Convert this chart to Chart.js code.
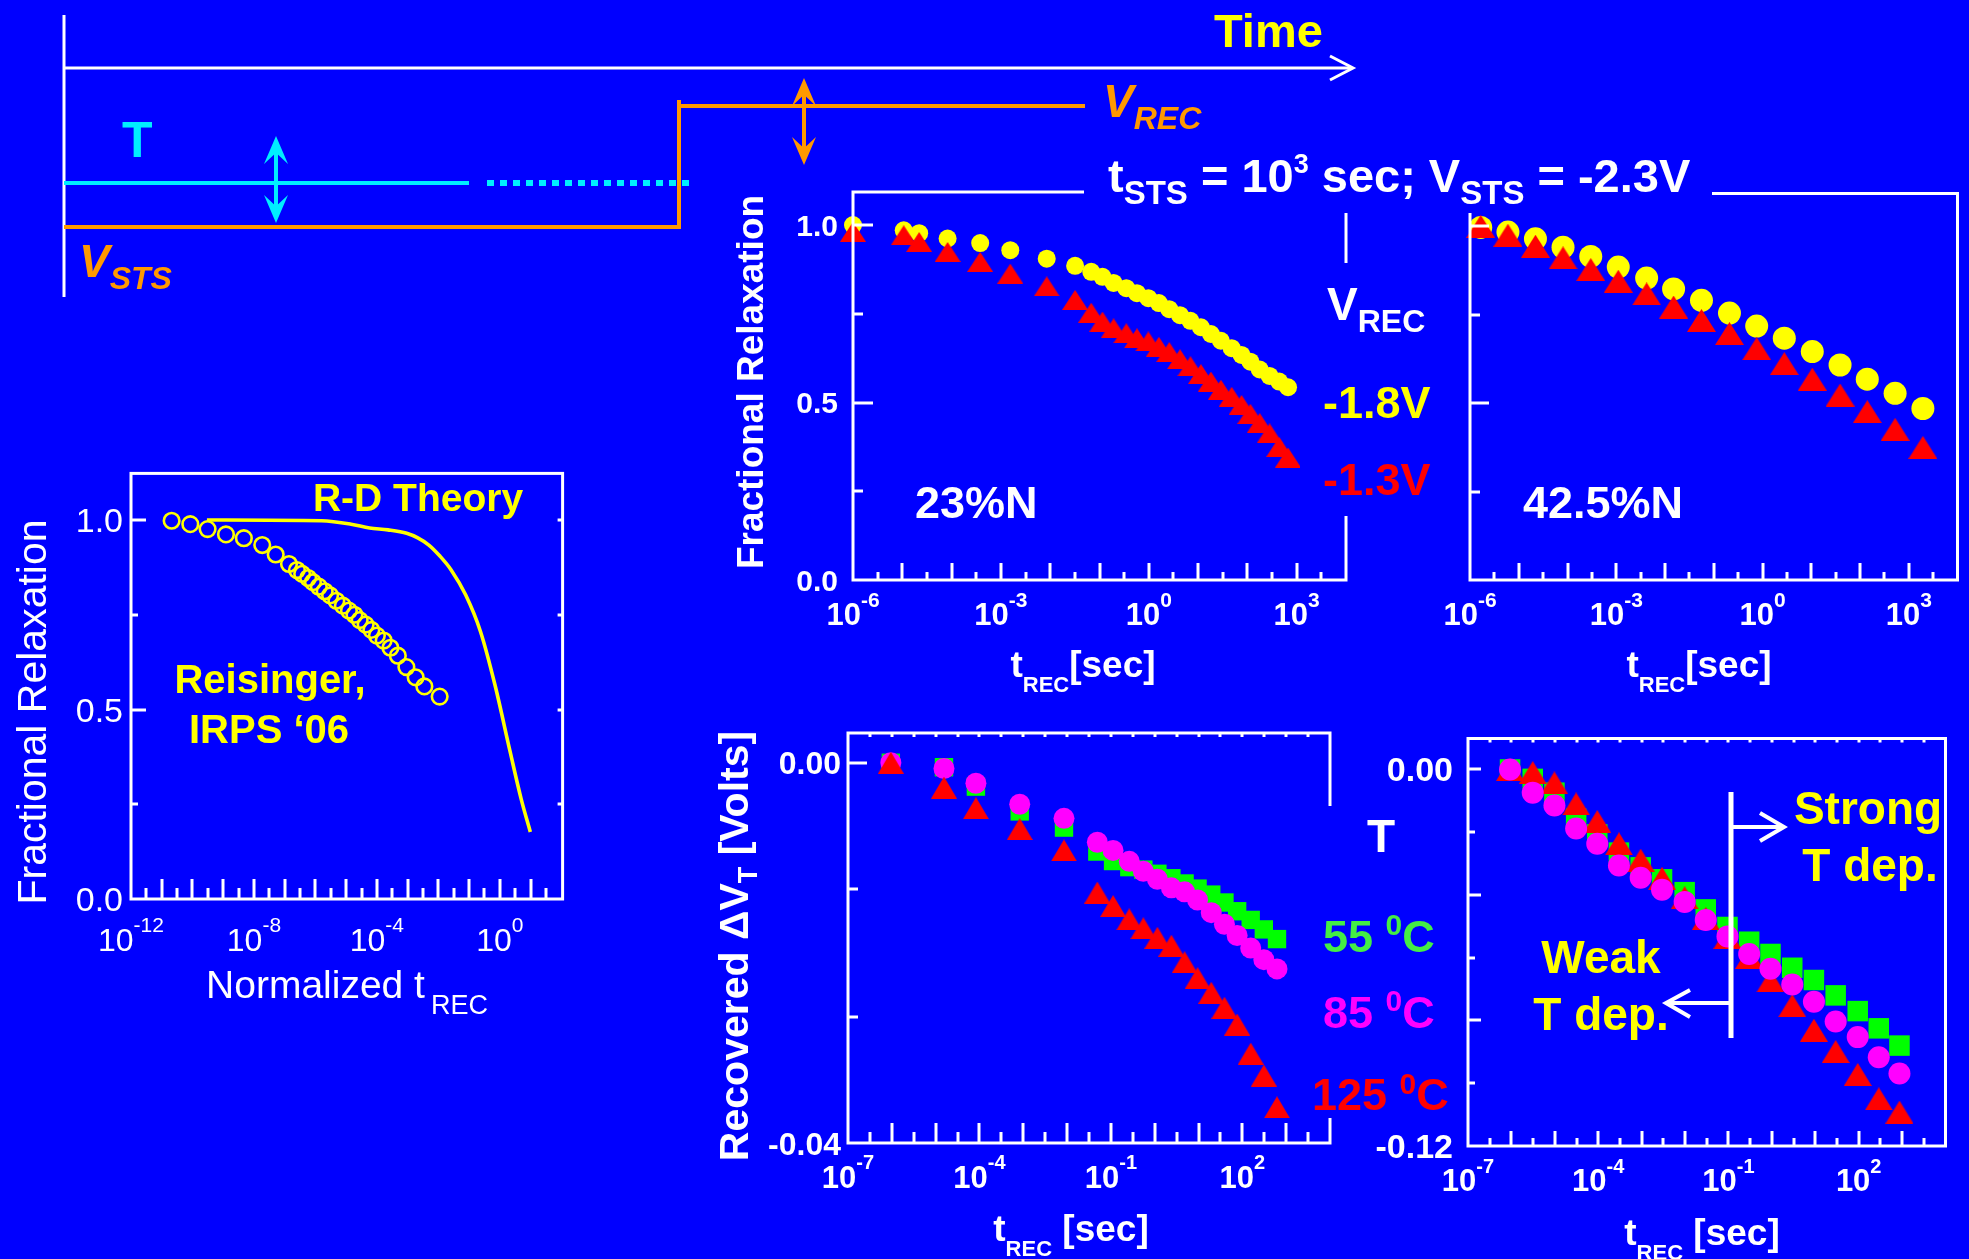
<!DOCTYPE html>
<html>
<head>
<meta charset="utf-8">
<script src="https://cdn.jsdelivr.net/npm/chart.js@4.4.1/dist/chart.umd.min.js"></script>
<style>
  html, body { margin: 0; padding: 0; background: #0000ff; width: 1969px; height: 1259px; overflow: hidden; }
  canvas { position: absolute; }
  #notes { left: 0; top: 0; z-index: 10; }
</style>
</head>
<body>
<canvas id="theoryChart"></canvas>
<canvas id="n23Chart"></canvas>
<canvas id="n425Chart"></canvas>
<canvas id="tempChart"></canvas>
<canvas id="tempSlopeChart"></canvas>
<canvas id="notes" width="1969" height="1259"></canvas>
<script>
// ---- R-D theory vs. Reisinger (normalized recovery time) ----
const reisT = [2.1e-11, 8.5e-11, 3.1e-10, 1.23e-9, 4.7e-9, 1.86e-8, 5.1e-8, 1.38e-7, 2.5e-7, 3.7e-7,
  5.8e-7, 8.3e-7, 1.29e-6, 2.0e-6, 3.0e-6, 4.8e-6, 7.8e-6, 1.23e-5, 1.86e-5, 2.75e-5,
  4.3e-5, 6.6e-5, 1.0e-4, 1.66e-4, 2.75e-4, 4.8e-4, 9.1e-4, 1.82e-3, 3.5e-3, 0.011];
const reisFrac = [0.998, 0.989, 0.976, 0.962, 0.952, 0.934, 0.909, 0.884, 0.868, 0.858,
  0.847, 0.836, 0.824, 0.812, 0.801, 0.787, 0.774, 0.761, 0.750, 0.736,
  0.724, 0.710, 0.695, 0.682, 0.663, 0.642, 0.612, 0.585, 0.561, 0.534];
const rdT = [2.95e-10, 1.58e-6, 1.45e-5, 5.75e-5, 2.3e-4, 9.3e-4, 2.14e-3, 4.9e-3, 0.0112, 0.0257, 0.0776, 0.234, 0.708, 2.14, 4.9, 9.8];
const rdFrac = [1.0, 0.998, 0.989, 0.979, 0.974, 0.965, 0.953, 0.934, 0.905, 0.869, 0.802, 0.706, 0.562, 0.39, 0.265, 0.177];

// ---- 23%N, fractional relaxation vs t_REC ----
const n23T = [1e-6, 1.07e-5, 2.2e-5, 8.3e-5, 3.8e-4, 1.55e-3, 8.5e-3, 0.032, 0.068, 0.115,
  0.193, 0.35, 0.575, 0.98, 1.6, 2.6, 4.3, 7.0, 11.4, 18.2,
  29, 48, 76, 115, 178, 282, 442, 668];
const n23Vrec18 = [1.0, 0.985, 0.977, 0.962, 0.949, 0.929, 0.905, 0.885, 0.868, 0.854,
  0.837, 0.822, 0.808, 0.794, 0.780, 0.763, 0.746, 0.730, 0.712, 0.693,
  0.674, 0.653, 0.634, 0.615, 0.593, 0.575, 0.559, 0.543];
const n23Vrec13 = [0.981, 0.971, 0.952, 0.924, 0.896, 0.863, 0.827, 0.789, 0.753, 0.728,
  0.709, 0.695, 0.681, 0.672, 0.657, 0.642, 0.622, 0.602, 0.580, 0.559,
  0.536, 0.516, 0.493, 0.468, 0.442, 0.413, 0.375, 0.345];

// ---- 42.5%N ----
const n425T = [1.66e-6, 6.0e-6, 2.2e-5, 8.1e-5, 3.0e-4, 1.1e-3, 4.2e-3, 0.015, 0.056, 0.21, 0.76, 2.8, 10.5, 39, 141, 525, 1950];
const n425Vrec18 = [0.997, 0.984, 0.965, 0.941, 0.915, 0.885, 0.854, 0.823, 0.791, 0.755, 0.718, 0.684, 0.646, 0.608, 0.568, 0.528, 0.485];
const n425Vrec13 = [1.0, 0.975, 0.944, 0.911, 0.878, 0.845, 0.809, 0.772, 0.734, 0.697, 0.654, 0.612, 0.568, 0.523, 0.476, 0.426, 0.375];

// ---- recovered dVT at three temperatures ----
const tempT = [9.5e-7, 1.55e-5, 8.3e-5, 8.3e-4, 8.5e-3, 0.049, 0.112, 0.263, 0.55, 1.15,
  2.4, 4.8, 9.5, 19.5, 39, 76, 155, 309, 617];
const dvt55 = [0, -0.00047, -0.00251, -0.00512, -0.00682, -0.00934, -0.01034, -0.01098, -0.01124, -0.01168,
  -0.01215, -0.0127, -0.01324, -0.01387, -0.0147, -0.01562, -0.01653, -0.01753, -0.01855];
const dvt85 = [0, -0.0006, -0.00216, -0.00436, -0.00585, -0.00836, -0.00922, -0.01037, -0.01142, -0.01225,
  -0.01316, -0.01358, -0.01444, -0.01577, -0.01699, -0.01817, -0.0195, -0.02071, -0.02169];
const dvt125 = [0, -0.00261, -0.00478, -0.00697, -0.00922, -0.01365, -0.01507, -0.01647, -0.01741, -0.01841,
  -0.01925, -0.02099, -0.02266, -0.0242, -0.02577, -0.02754, -0.0306, -0.0329, -0.03624];

// ---- second device, wider dVT range ----
const slopeT = [9.3e-7, 3.1e-6, 9.8e-6, 3.1e-5, 9.5e-5, 3.0e-4, 9.5e-4, 2.95e-3, 9.8e-3, 0.030,
  0.095, 0.30, 0.93, 2.95, 9.3, 29.5, 95, 290, 870];
const slope55 = [0, -0.003, -0.0074, -0.0157, -0.0207, -0.0265, -0.0312, -0.035, -0.0391, -0.0446,
  -0.0502, -0.0549, -0.0588, -0.0632, -0.0671, -0.0720, -0.0770, -0.0825, -0.0880];
const slope85 = [0, -0.0074, -0.0115, -0.0188, -0.0237, -0.0306, -0.0345, -0.0383, -0.0422, -0.0480,
  -0.0532, -0.0588, -0.0635, -0.0685, -0.0740, -0.0803, -0.0853, -0.0917, -0.0969];
const slope125 = [0, -0.001, -0.0043, -0.011, -0.0166, -0.0237, -0.0289, -0.0347, -0.0409, -0.0475,
  -0.0535, -0.0599, -0.0674, -0.0753, -0.0831, -0.0899, -0.0972, -0.1050, -0.1092];

const BLUE = '#0000ff', WHITE = '#ffffff', YELLOW = '#ffff00', RED = '#ff0000',
  GREEN = '#00ff00', MAGENTA = '#ff00ff', ORANGE = '#ff9900', CYAN = '#00eeff', TXT_GREEN = '#44ee44';

const font = (size, weight = 'bold', style = '') => `${style} ${weight} ${size}px "Liberation Sans", Arial, sans-serif`;
const pts = (xs, ys) => xs.map((x, i) => ({x, y: ys[i]}));

// flat triangle marker used by all the red series
function triangleMark(w, h, color) {
  const c = document.createElement('canvas');
  c.width = w; c.height = h;
  const g = c.getContext('2d');
  g.fillStyle = color;
  g.beginPath();
  g.moveTo(w / 2, 0); g.lineTo(w, h); g.lineTo(0, h);
  g.closePath(); g.fill();
  return c;
}

// box, inward ticks and tick labels (10 with raised exponent)
function axesPlugin(o) {
  return {
    id: 'axes',
    afterDatasetsDraw(chart) {
      const g = chart.ctx, a = chart.chartArea, xs = chart.scales.x, ys = chart.scales.y;
      g.save();
      g.strokeStyle = WHITE; g.fillStyle = WHITE;
      g.lineWidth = o.lw; g.lineCap = 'butt';
      g.strokeRect(a.left, a.top, a.right - a.left, a.bottom - a.top);
      const lo = Math.log10(xs.min), hi = Math.log10(xs.max);
      g.beginPath();
      for (let e = Math.ceil(lo * 2 - 1e-6) / 2; e < hi - 0.05; e += 0.5) {
        if (e < lo + 0.05) continue;
        const px = Math.round(xs.getPixelForValue(Math.pow(10, e)));
        const len = Number.isInteger(e) ? o.tickMajor : o.tickMinor;
        g.moveTo(px, a.bottom); g.lineTo(px, a.bottom - len);
        if (o.tickTop) { g.moveTo(px, a.top); g.lineTo(px, a.top + o.tickTop); }
      }
      for (const [v, len] of o.yTicks) {
        const py = Math.round(ys.getPixelForValue(v));
        g.moveTo(a.left, py); g.lineTo(a.left + len, py);
      }
      for (const [v, len] of (o.rTicks || [])) {
        const py = Math.round(ys.getPixelForValue(v));
        g.moveTo(a.right, py); g.lineTo(a.right - len, py);
      }
      g.stroke();

      g.font = o.yFont; g.textAlign = 'right'; g.textBaseline = 'alphabetic';
      for (const [v, txt] of (o.yLabels || [])) {
        g.fillText(txt, a.left - o.yGap, ys.getPixelForValue(v) + o.yCap / 2);
      }
      g.textAlign = 'left';
      for (const e of o.xExps) {
        const px = xs.getPixelForValue(Math.pow(10, e));
        g.font = o.xFont; const wb = g.measureText('10').width;
        g.font = o.xSupFont; const ws = g.measureText(String(e)).width;
        const x0 = px - (wb + ws) / 2, base = a.bottom + o.xBase;
        g.font = o.xFont; g.fillText('10', x0, base);
        g.font = o.xSupFont; g.fillText(String(e), x0 + wb, base - o.xRaise);
      }
      g.restore();
    }
  };
}

function makeChart(id, frame, pad, xr, yr, datasets, axes) {
  const cv = document.getElementById(id);
  cv.width = frame.r - frame.l + pad.l + pad.r;
  cv.height = frame.b - frame.t + pad.t + pad.b;
  cv.style.left = (frame.l - pad.l) + 'px';
  cv.style.top = (frame.t - pad.t) + 'px';
  return new Chart(cv, {
    type: 'scatter',
    data: {datasets},
    options: {
      responsive: false,
      animation: false,
      devicePixelRatio: 1,
      layout: {padding: {left: pad.l, top: pad.t, right: pad.r, bottom: pad.b}},
      plugins: {legend: {display: false}, tooltip: {enabled: false}},
      scales: {
        x: {type: 'logarithmic', bounds: 'data', min: xr[0], max: xr[1], display: false},
        y: {type: 'linear', bounds: 'data', min: yr[0], max: yr[1], display: false}
      }
    },
    plugins: [axesPlugin(axes)]
  });
}

const dot = (data, color, r) => ({data, pointStyle: 'circle', pointRadius: r, backgroundColor: color, borderWidth: 0, clip: false});
const tri = (data, w, h) => ({data, pointStyle: triangleMark(w, h, RED), pointRadius: 10, borderWidth: 0, clip: false});
const sq = (data, r) => ({data, pointStyle: 'rect', pointRadius: r, backgroundColor: GREEN, borderWidth: 0, clip: false});

// R-D theory panel
makeChart('theoryChart', {l: 131, t: 473, r: 563, b: 899}, {l: 80, t: 10, r: 10, b: 70},
  [1e-12, 110], [0, 1.123],
  [
    {data: pts(rdT, rdFrac), showLine: true, pointRadius: 0, borderColor: YELLOW, borderWidth: 3.6,
      cubicInterpolationMode: 'monotone', clip: false},
    {data: pts(reisT, reisFrac), pointStyle: 'circle', pointRadius: 7.8, backgroundColor: 'rgba(0,0,0,0)',
      borderColor: YELLOW, borderWidth: 2.6, clip: false}
  ],
  {lw: 3, tickMajor: 20, tickMinor: 11,
    yTicks: [[1, 15], [0.75, 7], [0.5, 15], [0.25, 7]], rTicks: [[1, 5], [0.75, 5], [0.5, 5], [0.25, 5]],
    yLabels: [[1, '1.0'], [0.5, '0.5'], [0, '0.0']], yFont: font(34, 'normal'), yCap: 24, yGap: 8,
    xExps: [-12, -8, -4, 0], xFont: font(32, 'normal'), xSupFont: font(21, 'normal'), xBase: 52, xRaise: 19});

// 23%N panel
makeChart('n23Chart', {l: 853, t: 192, r: 1346, b: 580}, {l: 70, t: 10, r: 40, b: 60},
  [1e-6, 1e4], [0, 1.093],
  [tri(pts(n23T, n23Vrec13), 26, 20), dot(pts(n23T, n23Vrec18), YELLOW, 9)],
  {lw: 3, tickMajor: 17, tickMinor: 8,
    yTicks: [[1, 20], [0.75, 10], [0.5, 20], [0.25, 10]],
    yLabels: [[1, '1.0'], [0.5, '0.5'], [0, '0.0']], yFont: font(30), yCap: 21, yGap: 15,
    xExps: [-6, -3, 0, 3], xFont: font(31), xSupFont: font(21), xBase: 45, xRaise: 18});

// 42.5%N panel
makeChart('n425Chart', {l: 1470, t: 192, r: 1961, b: 580}, {l: 40, t: 10, r: 8, b: 60},
  [1e-6, 1e4], [0, 1.093],
  [tri(pts(n425T, n425Vrec13), 29, 23), dot(pts(n425T, n425Vrec18), YELLOW, 11.5)],
  {lw: 3, tickMajor: 17, tickMinor: 8,
    yTicks: [[1, 19], [0.75, 10], [0.5, 19], [0.25, 10]],
    xExps: [-6, -3, 0, 3], xFont: font(31), xSupFont: font(21), xBase: 45, xRaise: 18});

// temperature panel
makeChart('tempChart', {l: 848, t: 730, r: 1330, b: 1143}, {l: 90, t: 10, r: 40, b: 60},
  [1e-7, 1e4], [-0.04, 0.00313],
  [tri(pts(tempT, dvt125), 26, 22), dot(pts(tempT, dvt85), MAGENTA, 10.5), sq(pts(tempT, dvt55), 13)],
  {lw: 3, tickMajor: 20, tickMinor: 11, tickTop: 4,
    yTicks: [[0, 19], [-0.0133, 10], [-0.0267, 10]],
    yLabels: [[0, '0.00'], [-0.04, '-0.04']], yFont: font(32), yCap: 23, yGap: 7,
    xExps: [-7, -4, -1, 2], xFont: font(31), xSupFont: font(20), xBase: 45, xRaise: 19});

// wider-range temperature panel
makeChart('tempSlopeChart', {l: 1468, t: 734, r: 1950, b: 1146}, {l: 110, t: 10, r: 10, b: 60},
  [1e-7, 1e4], [-0.12, 0.00987],
  [dot(pts(slopeT, slope85), MAGENTA, 11), tri(pts(slopeT, slope125), 28, 23), sq(pts(slopeT, slope55), 14.5)],
  {lw: 3, tickMajor: 15, tickMinor: 8, tickTop: 4,
    yTicks: [[0, 13], [-0.02, 7], [-0.04, 13], [-0.06, 7], [-0.08, 13], [-0.1, 7]],
    yLabels: [[0, '0.00'], [-0.12, '-0.12']], yFont: font(34), yCap: 24, yGap: 15,
    xExps: [-7, -4, -1, 2], xFont: font(31), xSupFont: font(20), xBase: 45, xRaise: 18});

// ---- stress/recovery waveform, labels and panel captions ----
const g = document.getElementById('notes').getContext('2d');

function line(x1, y1, x2, y2, color, w) {
  g.strokeStyle = color; g.lineWidth = w;
  g.beginPath(); g.moveTo(x1, y1); g.lineTo(x2, y2); g.stroke();
}
function poly(points, color, w) {
  g.strokeStyle = color; g.lineWidth = w; g.lineJoin = 'miter';
  g.beginPath(); g.moveTo(points[0][0], points[0][1]);
  for (const p of points.slice(1)) g.lineTo(p[0], p[1]);
  g.stroke();
}
function stealth(x, tipY, dir, w, len, color) {
  const by = tipY + dir * len;
  g.fillStyle = color;
  g.beginPath();
  g.moveTo(x, tipY); g.lineTo(x - w / 2, by);
  g.lineTo(x, tipY + dir * len * 0.6); g.lineTo(x + w / 2, by);
  g.closePath(); g.fill();
}
// parts: [text, font, dy, color, gapBefore]
function rich(x, y, parts, align, color) {
  let w = 0;
  for (const p of parts) { g.font = p[1]; w += g.measureText(p[0]).width + (p[4] || 0); }
  let cx = align === 'center' ? x - w / 2 : x;
  for (const p of parts) {
    cx += p[4] || 0;
    g.font = p[1]; g.fillStyle = p[3] || color;
    g.fillText(p[0], cx, y + (p[2] || 0));
    cx += g.measureText(p[0]).width;
  }
}
function vrich(x, y, parts, color) {
  g.save(); g.translate(x, y); g.rotate(-Math.PI / 2);
  rich(0, 0, parts, 'center', color);
  g.restore();
}

g.textBaseline = 'alphabetic';
g.lineCap = 'butt';

// time axis
line(64, 15, 64, 297, WHITE, 3);
line(64, 68, 1352, 68, WHITE, 3);
poly([[1330, 56], [1353, 68], [1330, 80]], WHITE, 3);
rich(1214, 47, [['Time', font(47)]], 'left', YELLOW);

// temperature trace
rich(122, 157, [['T', font(50)]], 'left', CYAN);
line(64, 183, 469, 183, CYAN, 4);
g.setLineDash([7, 6]);
line(487, 183, 692, 183, CYAN, 6);
g.setLineDash([]);
line(276, 150, 276, 209, CYAN, 4);
stealth(276, 136, 1, 24, 28, CYAN);
stealth(276, 223, -1, 24, 28, CYAN);

// gate voltage trace
poly([[64, 227], [679, 227], [679, 100]], ORANGE, 4);
line(677, 106, 1085, 106, ORANGE, 4);
line(804, 92, 804, 151, ORANGE, 4);
stealth(804, 78, 1, 24, 28, ORANGE);
stealth(804, 165, -1, 24, 28, ORANGE);
rich(1103, 117, [['V', font(46, 'bold', 'italic')], ['REC', font(32, 'bold', 'italic'), 12]], 'left', ORANGE);
rich(79, 277, [['V', font(46, 'bold', 'italic')], ['STS', font(32, 'bold', 'italic'), 12]], 'left', ORANGE);

// label backgrounds that break the panel frames
g.fillStyle = BLUE;
g.fillRect(1084, 148, 628, 65);
g.fillRect(1300, 263, 146, 253);
g.fillRect(1298, 806, 164, 312);

// stress condition
rich(1108, 192, [
  ['t', font(47)], ['STS', font(33), 12], [' = 10', font(47)], ['3', font(27), -19],
  [' sec; V', font(47)], ['STS', font(33), 12], [' = -2.3V', font(47)]
], 'left', WHITE);

// recovery-voltage key
rich(1327, 320, [['V', font(46)], ['REC', font(32), 12]], 'left', WHITE);
rich(1323, 418, [['-1.8V', font(45)]], 'left', YELLOW);
rich(1323, 495, [['-1.3V', font(45)]], 'left', RED);
rich(915, 518, [['23%N', font(45)]], 'left', WHITE);
rich(1523, 518, [['42.5%N', font(45)]], 'left', WHITE);

// temperature key
rich(1367, 852, [['T', font(46)]], 'left', WHITE);
rich(1323, 952, [['55 ', font(45)], ['0', font(30), -17], ['C', font(45)]], 'left', TXT_GREEN);
rich(1323, 1028, [['85 ', font(45)], ['0', font(30), -17], ['C', font(45)]], 'left', MAGENTA);
rich(1312, 1110, [['125 ', font(45)], ['0', font(30), -16], ['C', font(45)]], 'left', RED);

// theory panel captions
rich(418, 511, [['R-D Theory', font(39)]], 'center', YELLOW);
rich(270, 693, [['Reisinger,', font(40)]], 'center', YELLOW);
rich(269, 743, [['IRPS \u201806', font(40)]], 'center', YELLOW);

// weak / strong temperature dependence split
line(1731, 792, 1731, 1038, WHITE, 5);
line(1731, 827, 1782, 827, WHITE, 4);
poly([[1760, 813], [1784, 827], [1760, 841]], WHITE, 4);
line(1731, 1003, 1668, 1003, WHITE, 4);
poly([[1690, 990], [1666, 1003], [1690, 1017]], WHITE, 4);
rich(1868, 824, [['Strong', font(46)]], 'center', YELLOW);
rich(1870, 881, [['T dep.', font(46)]], 'center', YELLOW);
rich(1601, 973, [['Weak', font(46)]], 'center', YELLOW);
rich(1601, 1030, [['T dep.', font(46)]], 'center', YELLOW);

// axis titles
rich(347, 998, [['Normalized t', font(39, 'normal')], ['REC', font(27, 'normal'), 16, null, 6]], 'center', WHITE);
rich(1083, 677, [['t', font(37)], ['REC', font(22), 15], ['[sec]', font(37)]], 'center', WHITE);
rich(1699, 677, [['t', font(37)], ['REC', font(22), 15], ['[sec]', font(37)]], 'center', WHITE);
rich(1071, 1241, [['t', font(37)], ['REC', font(22), 15], [' [sec]', font(37)]], 'center', WHITE);
rich(1702, 1245, [['t', font(37)], ['REC', font(22), 15], [' [sec]', font(37)]], 'center', WHITE);
vrich(46, 712, [['Fractional Relaxation', font(41, 'normal')]], WHITE);
vrich(763, 382, [['Fractional Relaxation', font(37)]], WHITE);
vrich(748, 946, [['Recovered \u0394V', font(41)], ['T', font(27), 9], [' [Volts]', font(41)]], WHITE);
</script>
</body>
</html>
